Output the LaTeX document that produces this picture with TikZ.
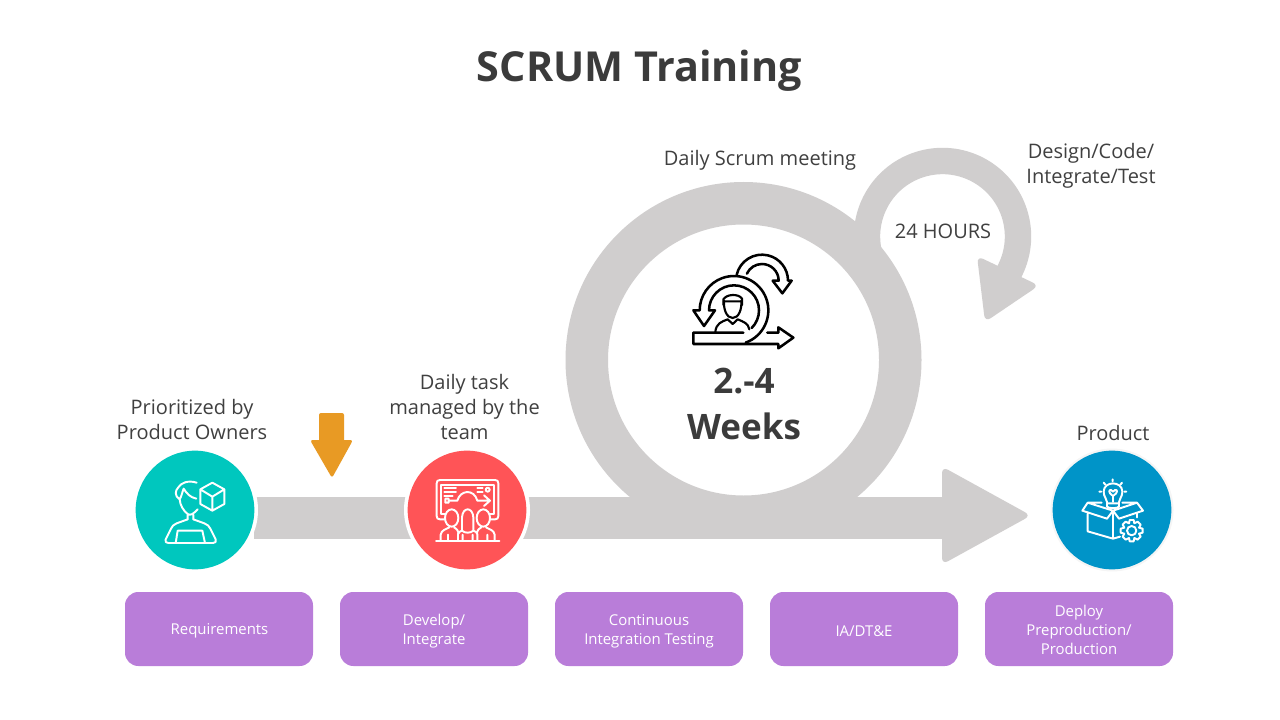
\documentclass[tikz,border=0pt]{standalone}
\usepackage{fontspec}
\setmainfont{Open Sans}
\definecolor{ringgrey}{HTML}{D0CECE}
\definecolor{txt}{HTML}{404040}
\definecolor{teal}{HTML}{00C7BE}
\definecolor{coral}{HTML}{FF5457}
\definecolor{azure}{HTML}{0094C8}
\definecolor{amber}{HTML}{E89A24}
\definecolor{lilac}{HTML}{B97DD9}
\tikzset{
 lbl/.style={text=txt,align=center,inner sep=0pt,font=\fontsize{15}{18.75}\selectfont},
 pbox/.style={fill=lilac,rounded corners=10pt,minimum width=141pt,minimum height=55.5pt,inner sep=0pt},
 ptext/.style={text=white,align=center,inner sep=0pt,font=\fontsize{11.2}{14.2}\selectfont},
 disc/.style={circle,minimum size=89pt,inner sep=0pt},
 halo/.style={circle,fill=white,minimum size=94.5pt,inner sep=0pt},
 wicon/.style={draw=white,line width=1.45pt,line cap=round,line join=round},
 kicon/.style={draw=black,line width=1.9pt,line cap=round,line join=round},
 zoomed/.style={x=0.25pt,y=-0.25pt}
}
\begin{document}
\begin{tikzpicture}[x=0.75pt,y=-0.75pt]
\useasboundingbox (0,0) rectangle (1280,720);
\fill[white] (0,0) rectangle (1280,720);
% title
\node[text=txt!92!black,inner sep=0pt,font=\fontsize{31}{36}\selectfont\bfseries] (title) at (639.5,71) {SCRUM Training};
% grey arrows
\fill[ringgrey] (254,497) rectangle (945,539);
\fill[ringgrey,rounded corners=5pt] (942,466.5) -- (1031,515.5) -- (942,564.5) -- cycle;
\fill[ringgrey,even odd rule] (743.5,360) circle[radius=178] (743.5,360) circle[radius=135.5];
\draw[ringgrey,line width=19.8pt] (942.5,236.5)+(165:75.5) arc[start angle=165,end angle=389,radius=75.5];
\fill[ringgrey,rounded corners=5pt] (977,256) -- (1039,285.5) -- (985,322) -- cycle;
% orange arrow
\fill[amber,rounded corners=1.5pt] (319,413) rectangle (344,445);
\fill[amber,rounded corners=2pt] (310,440) -- (353,440) -- (332,478) -- cycle;
% discs
\node[halo] (h1) at (195,510) {};
\node[halo] (h2) at (467,510) {};
\fill[black,opacity=.04] (1112,510) circle[radius=61.5];
\node[disc,fill=teal] (c1) at (195,510) {};
\node[disc,fill=coral] (c2) at (467,510) {};
\node[disc,fill=azure] (c3) at (1112,510) {};
% boxes
\node[pbox] (b1) at (219,629) {};
\node[pbox] (b2) at (434,629) {};
\node[pbox] (b3) at (649,629) {};
\node[pbox] (b4) at (864,629) {};
\node[pbox] (b5) at (1079,629) {};
\node[ptext] (t1) at (219.5,631) {Requirements};
\node[ptext] (t2) at (434,631) {Develop/\\Integrate};
\node[ptext] (t3) at (649,631) {Continuous\\Integration Testing};
\node[ptext] (t4) at (864,631) {IA/DT\&E};
\node[ptext] (t5) at (1079,630) {Deploy\\Preproduction/\\Production};
% labels
\node[lbl] (l1) at (192,419.5) {Prioritized by\\Product Owners};
\node[lbl] (l2) at (464.5,407) {Daily task\\managed by the\\team};
\node[lbl] (l3) at (760,160.5) {Daily Scrum meeting};
\node[lbl] (l4) at (1091,166) {Design/Code/\\Integrate/Test};
\node[lbl] (l5) at (943,231.5) {24 HOURS};
\node[lbl] (l6) at (1113,433) {Product};
\node[text=txt!92!black,align=center,inner sep=0pt,font=\fontsize{26.3}{34.5}\selectfont\bfseries] (l7) at (744,404) {2.-4\\Weeks};
% scrum icon
\begin{scope}[shift={(660,240)},zoomed]
\draw[kicon] (250,278) -- (100,278) -- (100,312) -- (355,312) -- (355,325) -- (400,293) -- (355,262) -- (355,278) -- (322,278);
\draw[kicon] (222,211)+(70:103) arc[start angle=70,end angle=-180,radius=103] -- (100,211) -- (132,258) -- (165,211) -- (147,211) arc[start angle=-180,end angle=45,radius=75];
\draw[kicon] (306,122)+(-167:78) arc[start angle=-167,end angle=0,radius=78] -- (395,122) -- (367,160) -- (338,122) -- (356,122) arc[start angle=0,end angle=-155,radius=50];
\draw[kicon,line width=1.6pt] (192,182) .. controls (190,208) and (200,234) .. (218,234) .. controls (236,234) and (246,208) .. (244,182);
\draw[kicon,line width=1.6pt] (190,195) -- (190,178) .. controls (200,162) and (235,160) .. (246,176) -- (246,195) (192,184) -- (244,184);
\draw[kicon,line width=1.6pt] (166,276) .. controls (168,250) and (185,245) .. (203,238) -- (218,252) -- (233,238) .. controls (250,245) and (265,250) .. (268,268);
\end{scope}
% requirements icon
\begin{scope}[shift={(125,440)},zoomed]
\draw[wicon] (262,128) -- (298,148) -- (298,192) -- (262,212) -- (226,192) -- (226,148) -- cycle (226,148) -- (262,170) -- (298,148) (262,170) -- (262,212);
\draw[wicon] (215,128) .. controls (190,120) and (168,128) .. (160,142) .. controls (150,152) and (148,168) .. (164,178) .. controls (165,195) and (175,212) .. (188,222) -- (188,238) (164,178) .. controls (170,168) and (172,155) .. (176,146) .. controls (185,160) and (195,172) .. (214,176) (188,222) .. controls (195,228) and (205,222) .. (218,208) (205,224) -- (205,238);
\draw[wicon] (188,238) -- (155,250) .. controls (145,254) and (142,258) .. (138,266) -- (122,298) .. controls (119,305) and (123,309) .. (130,309) -- (264,309) .. controls (271,309) and (275,305) .. (272,298) -- (256,266) .. controls (252,258) and (248,254) .. (238,250) -- (205,238);
\draw[wicon] (152,309) -- (158,272) -- (232,272) -- (240,309);
\end{scope}
% team icon
\begin{scope}[shift={(400,440)},zoomed]
\draw[wicon] (134,238) -- (120,238) .. controls (113,238) and (110,235) .. (110,228) -- (110,130) .. controls (110,123) and (113,120) .. (120,120) -- (285,120) .. controls (292,120) and (295,123) .. (295,130) -- (295,228) .. controls (295,235) and (292,238) .. (285,238) -- (270,238);
\draw[wicon] (134,222) -- (124,222) -- (124,134) -- (282,134) -- (282,222) -- (270,222);
\draw[wicon] (133,143) -- (168,143) (133,155) -- (168,155) (133,167) -- (158,167) (232,145) -- (248,145) (232,157) -- (248,157);
\draw[wicon] (263,149) circle[radius=6];
\draw[wicon] (136,176) rectangle (146,188) (146,182) -- (172,182) .. controls (180,150) and (222,145) .. (232,182) -- (270,182) (252,166) -- (270,182) -- (252,198);
\draw[wicon] (108,302) -- (298,302);
\draw[wicon,fill=coral] (155,234) ellipse[x radius=20,y radius=26];
\draw[wicon,fill=coral] (250,234) ellipse[x radius=20,y radius=26];
\draw[wicon] (122,302) -- (122,284) .. controls (124,270) and (138,268) .. (148,262) (162,262) .. controls (172,268) and (174,272) .. (176,280) (144,302) -- (144,284) (284,302) -- (284,284) .. controls (282,270) and (268,268) .. (258,262) (244,262) .. controls (234,268) and (232,272) .. (230,280) (262,302) -- (262,284);
\draw[wicon,fill=coral] (186,272) -- (186,232) .. controls (188,200) and (218,200) .. (220,232) -- (220,272) .. controls (212,280) and (194,280) .. (186,272) -- cycle;
\draw[wicon] (174,302) -- (174,282) .. controls (175,276) and (180,275) .. (186,272) (232,302) -- (232,282) .. controls (231,276) and (226,275) .. (220,272) (188,302) -- (188,284) (218,302) -- (218,284);
\end{scope}
% product icon
\begin{scope}[shift={(1045,440)},zoomed]
\draw[wicon] (186,186) .. controls (186,176) and (176,172) .. (176,155) .. controls (176,122) and (232,122) .. (232,155) .. controls (232,172) and (222,176) .. (222,186) -- (222,200) .. controls (216,206) and (192,206) .. (186,200) -- cycle (186,190) -- (222,190);
\draw[wicon] (204,186) -- (204,168) .. controls (188,158) and (192,148) .. (198,150) -- (204,155) -- (210,150) .. controls (218,148) and (220,158) .. (204,168);
\draw[wicon] (203,118) -- (203,124) (176,128) -- (181,134) (231,128) -- (226,134) (163,155) -- (169,155) (244,155) -- (238,155);
\draw[wicon] (128,222) -- (128,274) -- (204,296) -- (225,290) (204,296) -- (204,212) -- (128,188) -- (112,212) -- (186,236) -- (204,212) -- (276,188) -- (294,212) -- (222,236) -- (204,212) (128,188) -- (170,188) (276,188) -- (232,188) (276,218) -- (276,232);
\draw[wicon] (260,272) circle[radius=14];
\draw[wicon] (254,240) -- (266,240) -- (268,250) -- (278,245) -- (287,254) -- (282,263) -- (293,266) -- (293,278) -- (282,281) -- (287,290) -- (278,299) -- (268,294) -- (266,304) -- (254,304) -- (252,294) -- (242,299) -- (233,290) -- (238,281) -- (227,278) -- (227,266) -- (238,263) -- (233,254) -- (242,245) -- (252,250) -- cycle;
\end{scope}
\end{tikzpicture}
\end{document}
